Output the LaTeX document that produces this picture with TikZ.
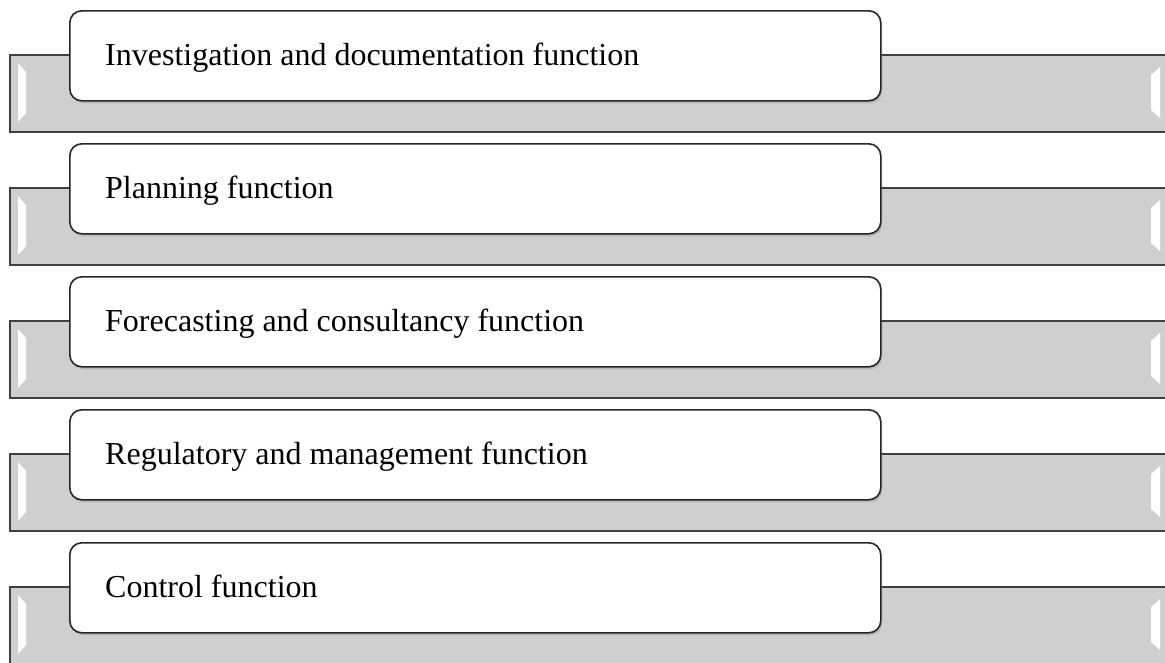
\documentclass[tikz,border=0pt]{standalone}
\usepackage{fontspec}
\setmainfont{Liberation Serif}
\usetikzlibrary{shadows}

\begin{document}
\begin{tikzpicture}[x=1pt, y=-1pt,
	bar/.style={draw=black!75, line width=1.6pt, fill=black!19},
	shine/.style={fill=white, draw=none},
	label box/.style={draw=black!85, line width=1.6pt, fill=white, rounded corners=12pt,
		minimum width=811pt, minimum height=90pt, anchor=north west,
		drop shadow={shadow xshift=1.5pt, shadow yshift=-2.5pt, opacity=0.3}},
	label text/.style={anchor=base west, inner sep=0pt, font=\fontsize{32}{38}\selectfont}]
	\useasboundingbox (0,0) rectangle (1165,662);

	\foreach \txt [count=\i from 0] in {Investigation and documentation function,
		Planning function, Forecasting and consultancy function,
		Regulatory and management function, Control function}{
		\pgfmathsetmacro\rowy{133*\i}
		\coordinate (bar\i) at (10, 55+\rowy);
		\draw [bar] (bar\i) rectangle ++(1170, 77);
		\fill [shine] (18, 63+\rowy) -- (26, 72+\rowy) -- (26, 113+\rowy) -- (18, 122+\rowy) -- cycle;
		\fill [shine] (1160, 67+\rowy) -- (1151, 75+\rowy) -- (1151, 110+\rowy) -- (1160, 118+\rowy) -- cycle;
		\node [label box] (box\i) at (69, 10+\rowy) {};
		\node [label text] (txt\i) at (105, 65+\rowy) {\txt};
	}
\end{tikzpicture}
\end{document}
